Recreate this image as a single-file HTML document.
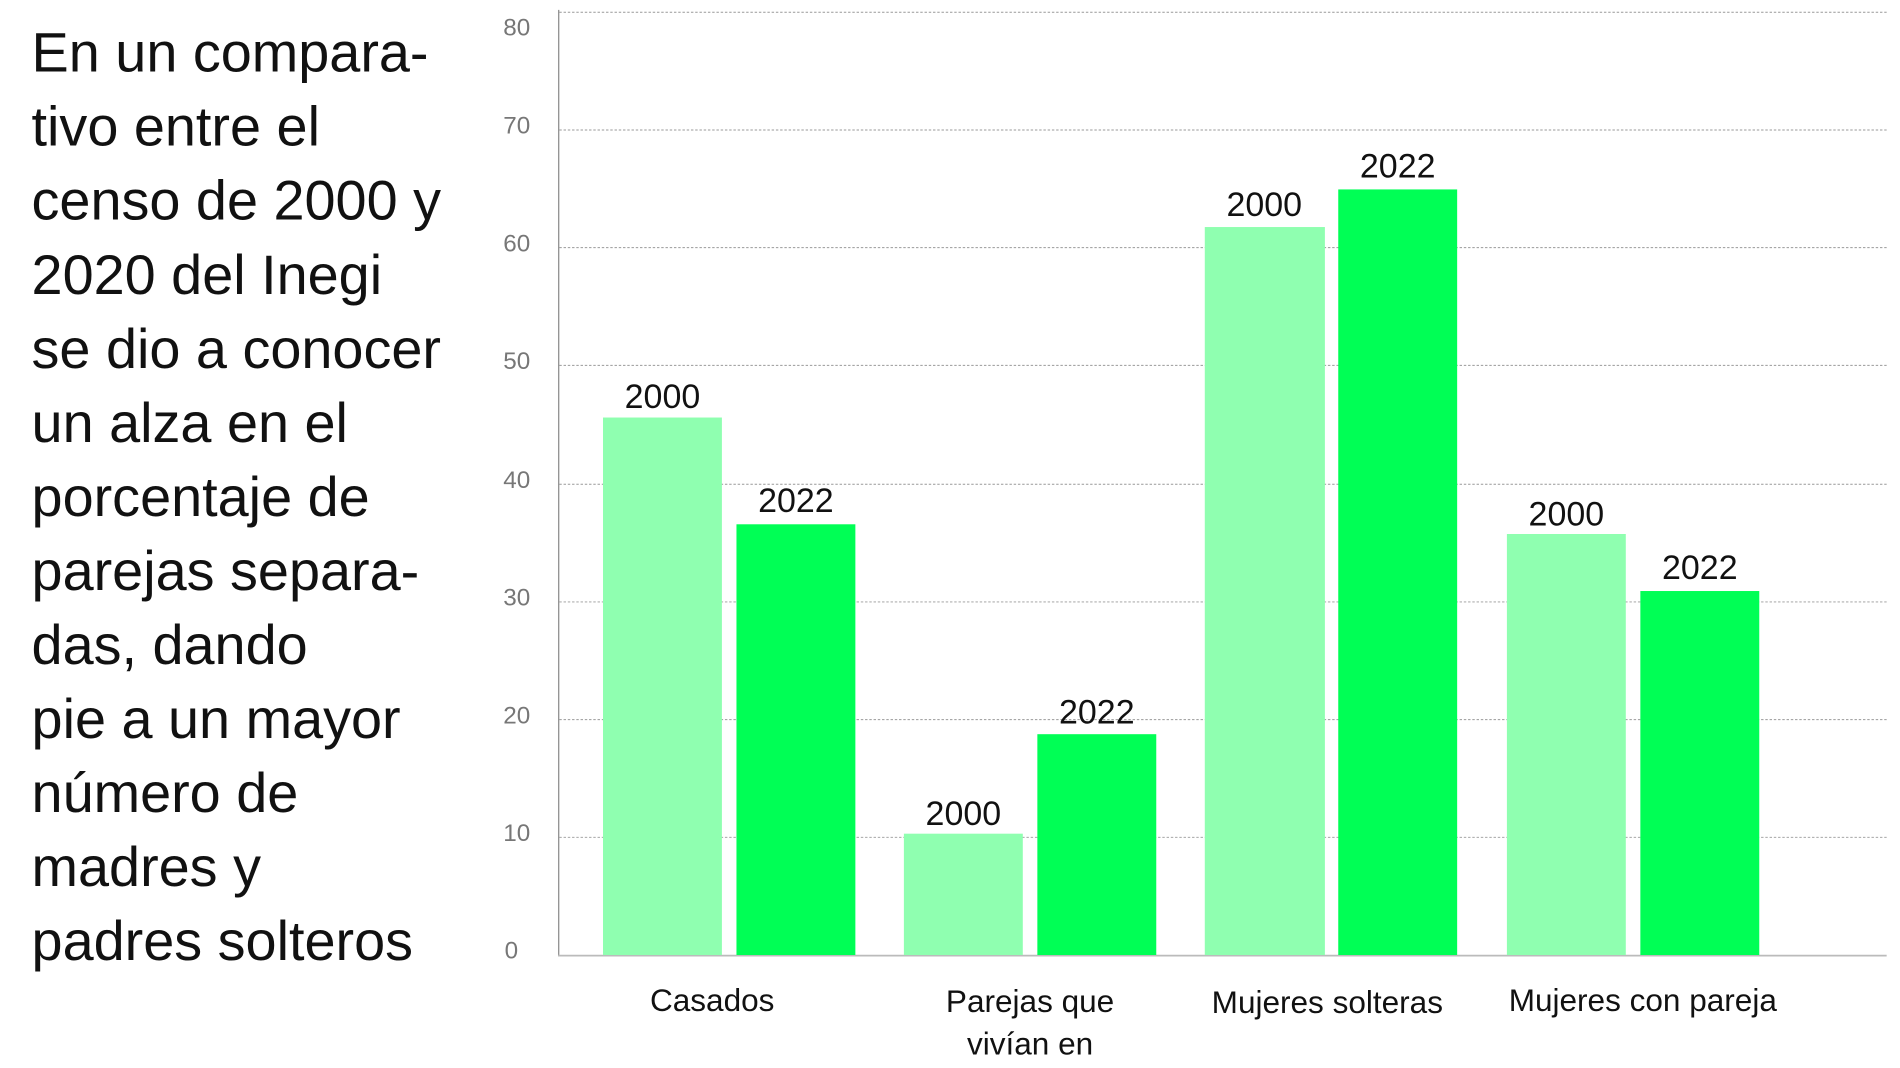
<!DOCTYPE html>
<html><head><meta charset="utf-8"><style>
html,body{margin:0;padding:0;background:#fff;width:1900px;height:1068px;overflow:hidden}
svg{display:block}
</style></head><body>
<svg width="1900" height="1068" viewBox="0 0 1566 880" xmlns="http://www.w3.org/2000/svg" font-family="Liberation Sans, DejaVu Sans, sans-serif">
<g font-size="46" fill="#111">
<text x="26" y="59">En un compara-</text>
<text x="26" y="120">tivo entre el</text>
<text x="26" y="181">censo de 2000 y</text>
<text x="26" y="242">2020 del Inegi</text>
<text x="26" y="303">se dio a conocer</text>
<text x="26" y="364">un alza en el</text>
<text x="26" y="425">porcentaje de</text>
<text x="26" y="486">parejas separa-</text>
<text x="26" y="547">das, dando</text>
<text x="26" y="608">pie a un mayor</text>
<text x="26" y="669">número de</text>
<text x="26" y="730">madres y</text>
<text x="26" y="791">padres solteros</text>
</g>
<g stroke="#999" stroke-width="0.8" stroke-dasharray="2,1.5">
<line x1="461" x2="1555" y1="10" y2="10"/>
<line x1="461" x2="1555" y1="107" y2="107"/>
<line x1="461" x2="1555" y1="204" y2="204"/>
<line x1="461" x2="1555" y1="301" y2="301"/>
<line x1="461" x2="1555" y1="399" y2="399"/>
<line x1="461" x2="1555" y1="496" y2="496"/>
<line x1="461" x2="1555" y1="593" y2="593"/>
<line x1="461" x2="1555" y1="690" y2="690"/>
</g>
<line x1="460.5" x2="460.5" y1="8" y2="788" stroke="#888" stroke-width="1"/>
<line x1="460" x2="1555" y1="787.5" y2="787.5" stroke="#bbb" stroke-width="1.5"/>
<g font-size="20" fill="#777" text-anchor="end">
<text x="437" y="29">80</text><text x="437" y="110">70</text><text x="437" y="207">60</text>
<text x="437" y="304">50</text><text x="437" y="402">40</text><text x="437" y="499">30</text>
<text x="437" y="596">20</text><text x="437" y="693">10</text><text x="427" y="790">0</text>
</g>
<g fill="#8fffb0">
<rect x="497" y="344" width="98" height="443"/>
<rect x="745" y="687" width="98" height="100"/>
<rect x="993" y="187" width="99" height="600"/>
<rect x="1242" y="440" width="98" height="347"/>
</g>
<g fill="#00ff55">
<rect x="607" y="432" width="98" height="355"/>
<rect x="855" y="605" width="98" height="182"/>
<rect x="1103" y="156" width="98" height="631"/>
<rect x="1352" y="487" width="98" height="300"/>
</g>
<g font-size="28" fill="#111" text-anchor="middle">
<text x="546" y="336">2000</text><text x="656" y="422">2022</text>
<text x="794" y="680">2000</text><text x="904" y="596">2022</text>
<text x="1042" y="178">2000</text><text x="1152" y="146">2022</text>
<text x="1291" y="433">2000</text><text x="1401" y="477">2022</text>
</g>
<g font-size="26" fill="#111" text-anchor="middle">
<text x="587" y="833">Casados</text>
<text x="849" y="834">Parejas que</text>
<text x="849" y="869">vivían en</text>
<text x="1094" y="835">Mujeres solteras</text>
<text x="1354" y="833">Mujeres con pareja</text>
</g>
</svg>
</body></html>
